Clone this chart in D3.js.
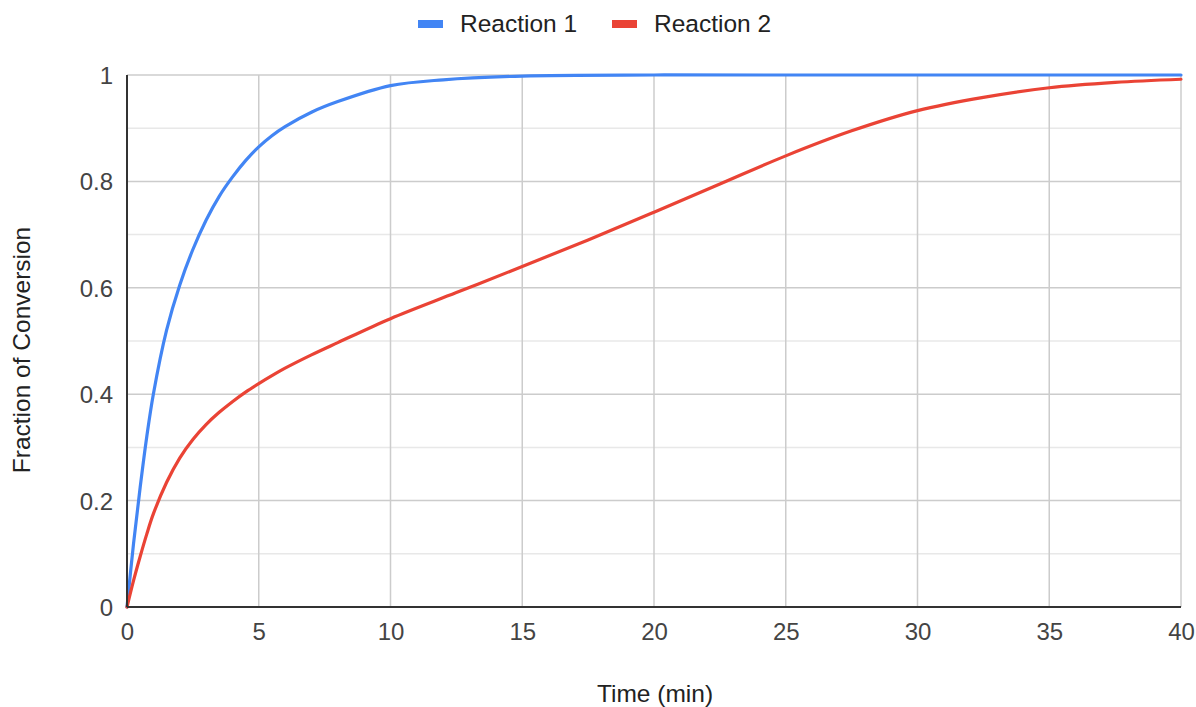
<!DOCTYPE html>
<html>
<head>
<meta charset="utf-8">
<script src="https://cdn.jsdelivr.net/npm/d3@7"></script>
<style>
  html, body { margin: 0; padding: 0; background: #fff; }
  svg { display: block; font-family: "Liberation Sans", Arial, sans-serif; }
</style>
</head>
<body>
<svg id="chart" width="1196" height="707"></svg>
<script>
// values
const seriesNames = ["Reaction 1", "Reaction 2"];
const seriesColors = ["#4285f4", "#ea4335"];

const timeR1 = [0, 0.25, 0.5, 0.75, 1, 1.5, 2, 2.5, 3, 3.5, 4, 4.5, 5, 5.5, 6, 7, 8, 10, 12, 15, 20, 25, 30, 35, 40];
const convR1 = [0, 0.12, 0.225, 0.32, 0.40, 0.52, 0.605, 0.672, 0.727, 0.772, 0.808, 0.839, 0.865, 0.886, 0.903, 0.93, 0.95, 0.98, 0.991, 0.998, 1, 1, 1, 1, 1];

const timeR2 = [0, 0.25, 0.5, 0.75, 1, 1.5, 2, 2.5, 3, 3.5, 4, 4.5, 5, 5.5, 6, 7, 8, 10, 12.5, 15, 17.5, 20, 22.5, 25, 27.5, 30, 32.5, 35, 37.5, 40];
const convR2 = [0, 0.05, 0.095, 0.137, 0.175, 0.234, 0.28, 0.315, 0.343, 0.366, 0.386, 0.404, 0.42, 0.435, 0.449, 0.474, 0.497, 0.542, 0.591, 0.64, 0.69, 0.742, 0.795, 0.848, 0.895, 0.933, 0.958, 0.976, 0.986, 0.992];

const xTicks = [0, 5, 10, 15, 20, 25, 30, 35, 40];
const yTicks = [0, 0.2, 0.4, 0.6, 0.8, 1];
const yMinorTicks = [0.1, 0.3, 0.5, 0.7, 0.9];

const xTitle = "Time (min)";
const yTitle = "Fraction of Conversion";

const width = 1196, height = 707;
const margin = { top: 75, right: 15, bottom: 100, left: 127 };

const svg = d3.select("#chart");

const x = d3.scaleLinear().domain([0, 40]).range([margin.left, width - margin.right]);
const y = d3.scaleLinear().domain([0, 1]).range([height - margin.bottom, margin.top]);

// minor gridlines
svg.append("g")
  .selectAll("line")
  .data(yMinorTicks)
  .join("line")
  .attr("x1", x(0)).attr("x2", x(40))
  .attr("y1", d => y(d)).attr("y2", d => y(d))
  .attr("stroke", "#e8e8e8")
  .attr("stroke-width", 1.5);

// major gridlines
svg.append("g")
  .selectAll("line")
  .data(yTicks.filter(d => d > 0))
  .join("line")
  .attr("x1", x(0)).attr("x2", x(40))
  .attr("y1", d => y(d)).attr("y2", d => y(d))
  .attr("stroke", "#cccccc")
  .attr("stroke-width", 1.5);

svg.append("g")
  .selectAll("line")
  .data(xTicks.filter(d => d > 0))
  .join("line")
  .attr("x1", d => x(d)).attr("x2", d => x(d))
  .attr("y1", y(0)).attr("y2", y(1))
  .attr("stroke", "#cccccc")
  .attr("stroke-width", 1.5);

// axes
const xAxis = d3.axisBottom(x).tickValues(xTicks).tickSize(0).tickPadding(16).tickFormat(d3.format("d"));
const yAxis = d3.axisLeft(y).tickValues(yTicks).tickSize(0).tickPadding(14).tickFormat(d => d === 0 || d === 1 ? d : d3.format(".1f")(d));

const gx = svg.append("g").attr("transform", `translate(0,${y(0)})`).call(xAxis);
const gy = svg.append("g").attr("transform", `translate(${x(0)},0)`).call(yAxis);

[gx, gy].forEach(g => {
  g.select(".domain").remove();
  g.selectAll("text")
    .attr("font-family", "'Liberation Sans', Arial, sans-serif")
    .attr("font-size", 24)
    .attr("fill", "#444");
});
gy.selectAll("text").attr("dy", "0.35em");

// series lines
const line = d3.line()
  .x(d => x(d[0]))
  .y(d => y(Math.min(1, d[1])))
  .curve(d3.curveCatmullRom.alpha(0.5));

const series = [
  d3.zip(timeR1, convR1),
  d3.zip(timeR2, convR2)
];

svg.append("g")
  .selectAll("path")
  .data(series)
  .join("path")
  .attr("d", line)
  .attr("fill", "none")
  .attr("stroke", (d, i) => seriesColors[i])
  .attr("stroke-width", 3.2)
  .attr("stroke-linejoin", "round")
  .attr("stroke-linecap", "round");

// axis baselines
svg.append("line")
  .attr("x1", x(0)).attr("x2", x(40))
  .attr("y1", y(0)).attr("y2", y(0))
  .attr("stroke", "#333").attr("stroke-width", 2);
svg.append("line")
  .attr("x1", x(0)).attr("x2", x(0))
  .attr("y1", y(0)).attr("y2", y(1))
  .attr("stroke", "#333").attr("stroke-width", 2);

// axis titles
svg.append("text")
  .attr("x", (x(0) + x(40)) / 2 + 1)
  .attr("y", 702)
  .attr("text-anchor", "middle")
  .attr("font-size", 24.5)
  .attr("fill", "#222")
  .text(xTitle);

svg.append("text")
  .attr("transform", "translate(30,350) rotate(-90)")
  .attr("text-anchor", "middle")
  .attr("font-size", 24.5)
  .attr("fill", "#222")
  .text(yTitle);

// legend
const legendX = [418, 612];
const legend = svg.append("g")
  .selectAll("g")
  .data(seriesNames)
  .join("g")
  .attr("transform", (d, i) => `translate(${legendX[i]},0)`);

legend.append("rect")
  .attr("x", 0).attr("y", 20)
  .attr("width", 25).attr("height", 8)
  .attr("fill", (d, i) => seriesColors[i]);

legend.append("text")
  .attr("x", 42).attr("y", 31.5)
  .attr("font-size", 24.5)
  .attr("fill", "#222")
  .text(d => d);
</script>
</body>
</html>
